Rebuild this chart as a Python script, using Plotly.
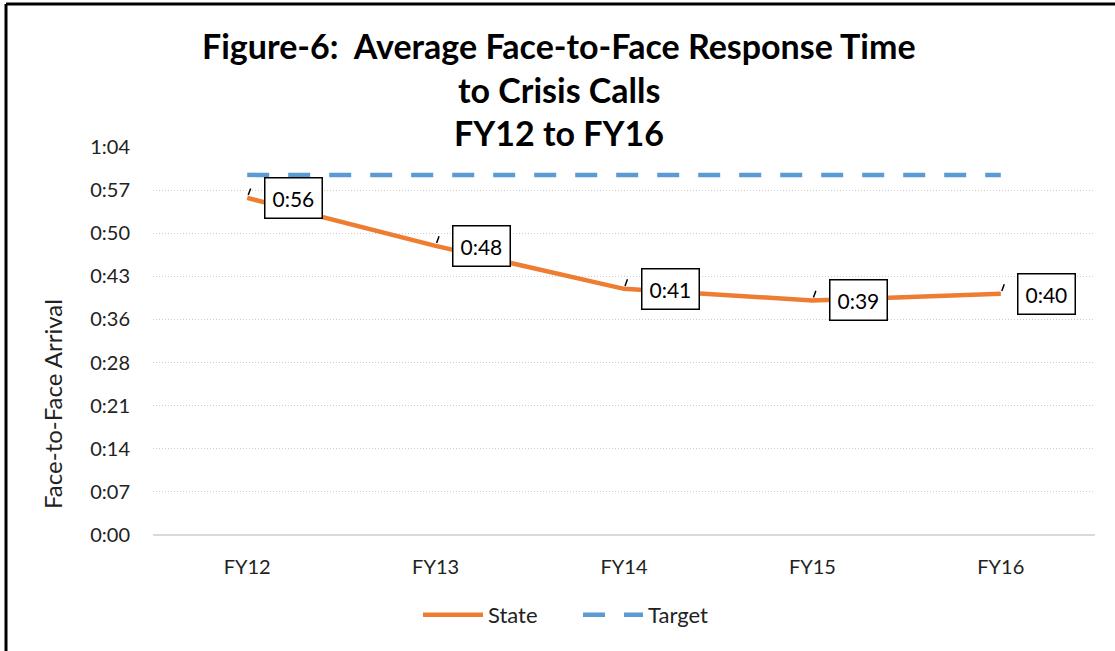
import plotly.graph_objects as go

categories = ["FY12", "FY13", "FY14", "FY15", "FY16"]
state_minutes = [55.6, 47.7, 40.6, 38.7, 39.8]
target_minutes = [59.4, 59.4, 59.4, 59.4, 59.4]
ytick_vals = [k * 64 / 9 for k in range(10)]
ytick_text = ["0:00", "0:07", "0:14", "0:21", "0:28", "0:36", "0:43", "0:50", "0:57", "1:04"]
title_lines = ["Figure-6:  Average Face-to-Face Response Time", "to Crisis Calls", "FY12 to FY16"]
y_title = "Face-to-Face Arrival"

FONT = "Lato, 'Open Sans', sans-serif"
W, H = 1115, 651
L, R, T, B = 153, 20, 147, 116
PW, PH = W - L - R, H - T - B

def px_x(p):
    return (p - L) / PW

def px_y(p):
    return (H - B - p) / PH

fig = go.Figure()
fig.add_trace(go.Scatter(x=categories, y=state_minutes, name="State", mode="lines",
                         line=dict(color="#ED7D31", width=4.5)))
fig.add_trace(go.Scatter(x=categories, y=target_minutes, name="Target", mode="lines",
                         line=dict(color="#5B9BD5", width=4.5, dash="22px,19px")))

def fmt(m):
    r = int(round(m))
    return f"{r // 60}:{r % 60:02d}"

for c, v in zip(categories, state_minutes):
    fig.add_annotation(x=c, y=v, text=fmt(v), showarrow=False, xshift=46, yshift=0,
                       font=dict(family=FONT, size=21, color="#000"),
                       bordercolor="#000", borderwidth=1.5, borderpad=7, bgcolor="#fff")
    fig.add_annotation(x=c, y=v, text="", showarrow=True, arrowhead=0, arrowwidth=1.5,
                       arrowcolor="#000", ax=4, ay=-11, standoff=3)

ys = [45, 89, 133]
for line, yp in zip(title_lines, ys):
    fig.add_annotation(xref="paper", yref="paper", x=px_x(559), y=px_y(yp), text=f"<b>{line}</b>",
                       showarrow=False, xanchor="center", yanchor="middle",
                       font=dict(family=FONT, size=34, color="#000"))

fig.add_annotation(xref="paper", yref="paper", x=px_x(52), y=px_y(404), text=y_title,
                   textangle=-90, showarrow=False, xanchor="center", yanchor="middle",
                   font=dict(family=FONT, size=24, color="#222"))

# outer border (left and top edges visible)
fig.add_shape(type="line", xref="paper", yref="paper", x0=px_x(6), x1=px_x(6), y0=px_y(4), y1=px_y(660),
              line=dict(color="#000", width=3))
fig.add_shape(type="line", xref="paper", yref="paper", x0=px_x(6), x1=px_x(1130), y0=px_y(4), y1=px_y(4),
              line=dict(color="#000", width=3))

fig.update_layout(
    width=W, height=H, margin=dict(l=L, r=R, t=T, b=B),
    paper_bgcolor="#fff", plot_bgcolor="#fff",
    font=dict(family=FONT, size=20, color="#222"),
    showlegend=True,
    legend=dict(orientation="h", xanchor="center", yanchor="middle", x=px_x(578), y=px_y(615),
                font=dict(family=FONT, size=22, color="#222"), itemwidth=60, entrywidth=85),
    xaxis=dict(range=[-0.5, 4.5], showgrid=False, zeroline=False, showline=False, ticks="",
               ticklabelstandoff=18, tickfont=dict(family=FONT, size=20, color="#222")),
    yaxis=dict(range=[0, 64], tickvals=ytick_vals, ticktext=ytick_text, showgrid=True,
               gridcolor="#CCCCCC", griddash="1px,2px", gridwidth=1, zeroline=True,
               zerolinecolor="#D9D9D9", zerolinewidth=2, showline=False, ticks="",
               ticklabelstandoff=22, tickfont=dict(family=FONT, size=20, color="#222")),
)

fig.write_html("out.html", config={"displayModeBar": False},
               post_script="document.body.style.margin='0';")
